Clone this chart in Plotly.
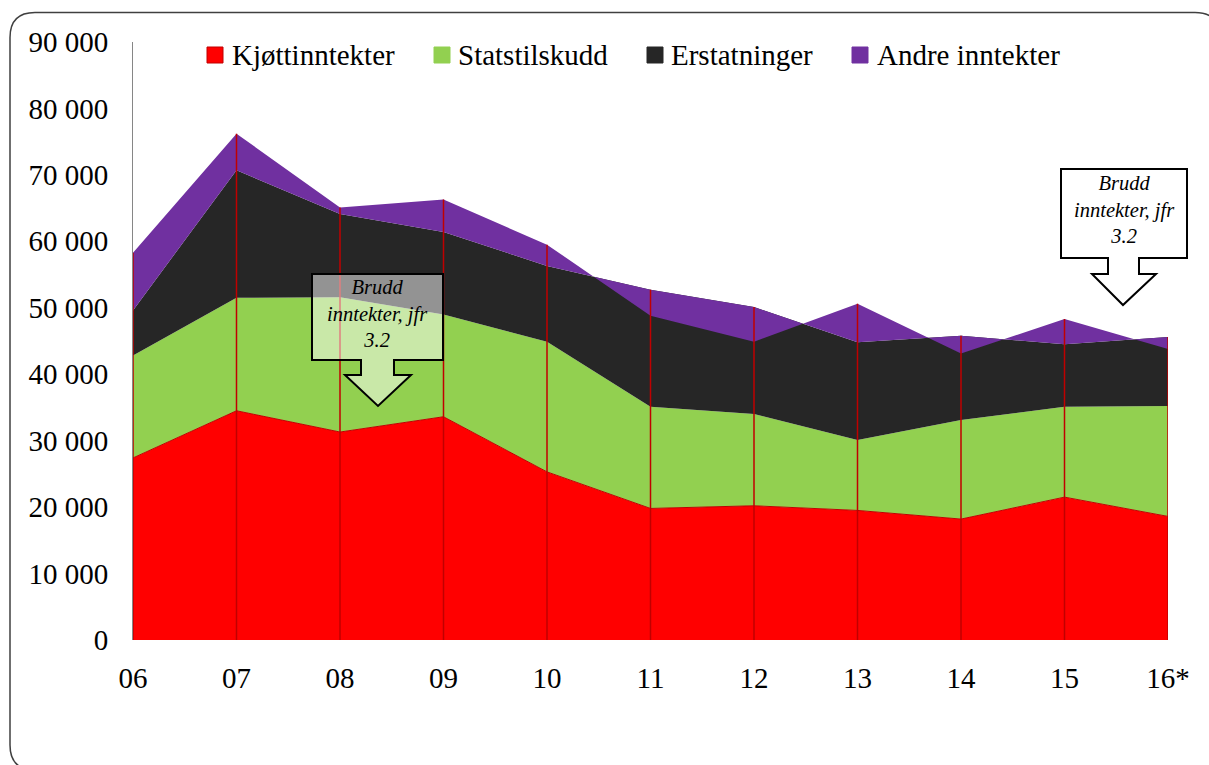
import plotly.graph_objects as go

# Income components per year (NOK), stacked area
years = ["06", "07", "08", "09", "10", "11", "12", "13", "14", "15", "16*"]
kjott = [27400, 34500, 31300, 33600, 25300, 19800, 20200, 19500, 18200, 21500, 18600]
statstilskudd = [15400, 17000, 20300, 15400, 19600, 15300, 13800, 10600, 14900, 13600, 16600]
erstatninger = [6800, 19200, 12500, 12400, 11400, 17600, 16100, 14700, 12700, 9400, 10400]
andre = [8700, 5500, 1000, 4900, 3200, -3900, -5200, 5800, -2700, 3800, -1800]

series_names = ["Kjøttinntekter", "Statstilskudd", "Erstatninger", "Andre inntekter"]
series_values = [kjott, statstilskudd, erstatninger, andre]
series_colors = ["#FF0000", "#92D050", "#262626", "#7030A0"]

callout_text = "<i>Brudd<br>inntekter, jfr<br>3.2</i>"

FONT = "Liberation Serif"
W, H = 1209, 765
L, R, T, B = 133, 1168, 42, 640  # plot area in pixels


def px(x):
    return (x - L) / (R - L)


def py(y):
    return (B - y) / (B - T)


fig = go.Figure()

for name, vals, col in zip(series_names, series_values, series_colors):
    line = dict(width=1, color="#C00000") if col == "#FF0000" else dict(width=0, color=col)
    fig.add_trace(go.Scatter(
        x=years, y=vals, name=name, stackgroup="inntekter", mode="lines",
        line=line, fillcolor=col, showlegend=False, hoverinfo="skip",
    ))

# Drop lines from the highest stacked level down to the axis
cum_tops = []
for i in range(len(years)):
    running, top = 0, 0
    for vals in series_values:
        running += vals[i]
        top = max(top, running)
    cum_tops.append(top)

drop_x, drop_y = [], []
for yr, top in zip(years, cum_tops):
    drop_x += [yr, yr, None]
    drop_y += [0, top, None]
fig.add_trace(go.Scatter(
    x=drop_x, y=drop_y, mode="lines", line=dict(color="#C00000", width=1.5),
    showlegend=False, hoverinfo="skip", cliponaxis=False,
))

shapes = []
annotations = []

# Legend (squares + labels)
legend_pos = [(207, 230), (434, 456), (647, 669), (852, 875)]
for (mx, tx), name, col in zip(legend_pos, series_names, series_colors):
    shapes.append(dict(
        type="rect", xref="paper", yref="paper",
        x0=px(mx), x1=px(mx + 16), y0=py(63), y1=py(47),
        fillcolor=col, line=dict(color="#C00000" if col == "#FF0000" else col, width=1),
        layer="above",
    ))
    annotations.append(dict(
        xref="paper", yref="paper", x=px(tx), y=py(55), text=name,
        showarrow=False, xanchor="left", yanchor="middle",
        font=dict(family=FONT, size=29, color="black"),
    ))


def callout_path(box, stem, head, tip):
    x0, y0, x1, y1 = box
    sx0, sx1, sy = stem
    hx0, hx1 = head
    tx, ty = tip
    pts = [(x0, y0), (x1, y0), (x1, y1), (sx1, y1), (sx1, sy), (hx1, sy),
           (tx, ty), (hx0, sy), (sx0, sy), (sx0, y1), (x0, y1)]
    return "M " + " L ".join(f"{px(a):.5f},{py(b):.5f}" for a, b in pts) + " Z"


callouts = [
    dict(box=(312, 274, 443, 360), stem=(361, 394, 375), head=(345, 411), tip=(378, 406),
         fill="rgba(255,255,255,0.5)", ty=313),
    dict(box=(1061, 169, 1187, 258), stem=(1108, 1139, 274), head=(1092, 1156), tip=(1123, 305),
         fill="rgba(255,255,255,1)", ty=209),
]
for c in callouts:
    shapes.append(dict(
        type="path", xref="paper", yref="paper",
        path=callout_path(c["box"], c["stem"], c["head"], c["tip"]),
        fillcolor=c["fill"], line=dict(color="black", width=2), layer="above",
    ))
    cx = (c["box"][0] + c["box"][2]) / 2
    annotations.append(dict(
        xref="paper", yref="paper", x=px(cx), y=py(c["ty"]), text=callout_text,
        showarrow=False, xanchor="center", yanchor="middle",
        font=dict(family=FONT, size=20.5, color="black"),
    ))

# Rounded outer frame
fx0, fy0, fx1, fy1, r = 10, 12.5, 1220, 770, 25
frame_pts = (
    f"M {px(fx0 + r)},{py(fy0)} L {px(fx1 - r)},{py(fy0)} "
    f"Q {px(fx1)},{py(fy0)} {px(fx1)},{py(fy0 + r)} L {px(fx1)},{py(fy1 - r)} "
    f"Q {px(fx1)},{py(fy1)} {px(fx1 - r)},{py(fy1)} L {px(fx0 + r)},{py(fy1)} "
    f"Q {px(fx0)},{py(fy1)} {px(fx0)},{py(fy1 - r)} L {px(fx0)},{py(fy0 + r)} "
    f"Q {px(fx0)},{py(fy0)} {px(fx0 + r)},{py(fy0)} Z"
)
shapes.append(dict(type="path", xref="paper", yref="paper", path=frame_pts,
                   line=dict(color="#404040", width=1.5), layer="below"))

fig.update_layout(
    width=W, height=H, autosize=False,
    margin=dict(l=L, r=W - R, t=T, b=H - B, pad=0),
    paper_bgcolor="white", plot_bgcolor="white",
    separators=", ",
    font=dict(family=FONT, size=29, color="black"),
    showlegend=False,
    shapes=shapes, annotations=annotations,
    xaxis=dict(
        type="category", range=[0, len(years) - 1], showgrid=False, zeroline=False,
        showline=False, ticks="", ticklabelstandoff=18,
        tickfont=dict(family=FONT, size=29, color="black"),
    ),
    yaxis=dict(
        range=[0, 90000], dtick=10000, tickformat=",", showgrid=False, zeroline=False,
        showline=True, linecolor="#868686", linewidth=1, ticks="", ticklabelstandoff=18,
        tickfont=dict(family=FONT, size=29, color="black"),
    ),
)

fig.write_html("out.html")
